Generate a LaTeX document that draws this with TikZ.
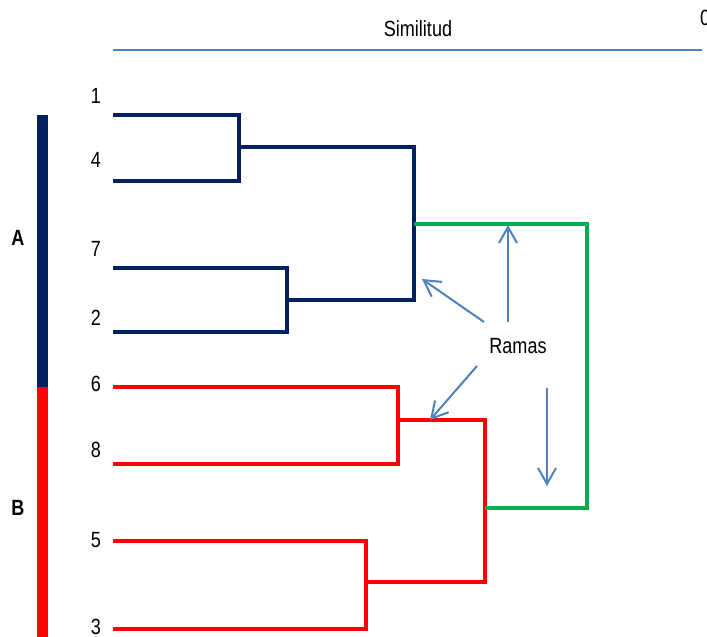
\documentclass[tikz,border=0pt]{standalone}
\usepackage{fontspec}
\setmainfont{Liberation Sans}
\usetikzlibrary{arrows.meta}
\definecolor{navyA}{HTML}{002060}
\definecolor{redB}{HTML}{FF0000}
\definecolor{greenR}{HTML}{00B050}
\definecolor{steel}{HTML}{4F81BD}
\tikzset{
  lbl/.style={inner sep=0pt, xscale=0.82, font=\fontsize{22}{26}\selectfont},
  grp/.style={lbl, font=\fontsize{22}{26}\selectfont\bfseries},
  branchA/.style={draw=navyA, line width=4.2pt},
  branchB/.style={draw=redB, line width=4.2pt},
  branchR/.style={draw=greenR, line width=4.5pt},
  pointer/.style={draw=steel, line width=2pt, -{Straight Barb[length=16pt,width=18pt]}},
  axisline/.style={draw=steel, line width=1.6pt}
}
\begin{document}
\begin{tikzpicture}[x=1pt, y=-1pt]
\useasboundingbox (0,0) rectangle (707,637);

% axis and title
\coordinate (axL) at (113,50);
\coordinate (axR) at (702,50);
\draw[axisline] (axL) -- (axR);
\node[lbl] (title) at (418,29) {Similitud};
\node[lbl, anchor=west] (zero) at (700,18) {0};

% group bars
\fill[navyA] (37,115) rectangle (48,387);
\fill[redB] (37,387) rectangle (48,637);
\node[grp] (gA) at (18,238) {A};
\node[grp] (gB) at (18,508) {B};

% leaf labels
\node[lbl] (n1) at (96,96) {1};
\node[lbl] (n4) at (96,160) {4};
\node[lbl] (n7) at (96,249) {7};
\node[lbl] (n2) at (96,318) {2};
\node[lbl] (n6) at (96,384) {6};
\node[lbl] (n8) at (96,450) {8};
\node[lbl] (n5) at (96,540) {5};
\node[lbl] (n3) at (96,627) {3};

% leaf starts
\coordinate (s1) at (113,115);
\coordinate (s4) at (113,181);
\coordinate (s7) at (113,268);
\coordinate (s2) at (113,332);
\coordinate (s6) at (113,387);
\coordinate (s8) at (113,464);
\coordinate (s5) at (113,541);
\coordinate (s3) at (113,629);

% merge points
\coordinate (c14) at (239,147);
\coordinate (c72) at (287,300);
\coordinate (cA)  at (414,224);
\coordinate (c68) at (398,420);
\coordinate (c53) at (366,582);
\coordinate (cB)  at (485,508);
\coordinate (root) at (587,366);

% cluster A
\draw[branchA] (s1) -| (c14) |- (s4);
\draw[branchA] (s7) -| (c72) |- (s2);
\draw[branchA] (c14) -| (cA) |- (c72);

% cluster B
\draw[branchB] (s6) -| (c68) |- (s8);
\draw[branchB] (s5) -| (c53) |- (s3);
\draw[branchB] (c68) -| (cB) |- (c53);

% joining branch
\draw[branchR] (cA) -| (root) |- (cB);

% annotation
\node[lbl] (ramas) at (518,346) {Ramas};
\coordinate (t1) at (484,322);
\coordinate (h1) at (422,279);
\coordinate (t2) at (508,322);
\coordinate (h2) at (508,225);
\coordinate (t3) at (477,366);
\coordinate (h3) at (430,420);
\coordinate (t4) at (547,388);
\coordinate (h4) at (547,486);
\draw[pointer] (t1) -- (h1);
\draw[pointer] (t2) -- (h2);
\draw[pointer] (t3) -- (h3);
\draw[pointer] (t4) -- (h4);
\end{tikzpicture}
\end{document}
